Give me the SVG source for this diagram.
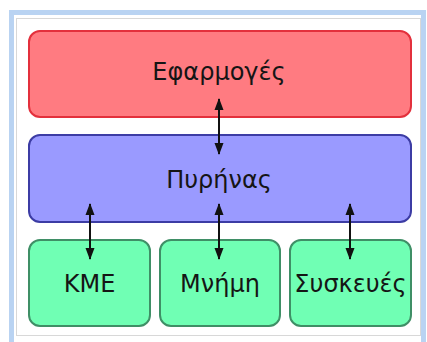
<svg xmlns="http://www.w3.org/2000/svg" width="427" height="342" viewBox="0 0 427 342">
<style>
.box{stroke-width:2}
.lbl{font-family:"DejaVu Sans",sans-serif;font-size:24px;fill:#151515;text-anchor:middle}
.con{stroke:#111;stroke-width:2;fill:none;marker-start:url(#ah);marker-end:url(#ah)}
</style>
<defs>
<marker id="ah" viewBox="0 0 12 10" refX="11" refY="5" markerWidth="12" markerHeight="10" markerUnits="userSpaceOnUse" orient="auto-start-reverse">
<path d="M0,0.5 L12,5 L0,9.5 Z" fill="#111"/>
</marker>
</defs>
<rect x="0" y="0" width="427" height="342" fill="#ffffff"/>
<rect x="11.5" y="12.5" width="412" height="332" fill="#ffffff" stroke="#b9d3f2" stroke-width="5"/>
<rect x="16.5" y="18.5" width="404" height="317" fill="#ffffff" stroke="#d8d8d8" stroke-width="1"/>
<g id="app">
<rect class="box" x="29" y="31" width="382" height="86" rx="11" fill="#ff7b81" stroke="#e3303c"/>
<text class="lbl" x="219" y="80">Εφαρμογές</text>
</g>
<g id="kernel">
<rect class="box" x="29" y="135" width="382" height="87" rx="11" fill="#9a9aff" stroke="#3c3ca4"/>
<text class="lbl" x="219" y="188">Πυρήνας</text>
</g>
<g id="cpu">
<rect class="box" x="29" y="240" width="121" height="86" rx="11" fill="#70ffb4" stroke="#3f8f66"/>
<text class="lbl" x="89.5" y="292">ΚΜΕ</text>
</g>
<g id="memory">
<rect class="box" x="160" y="240" width="120" height="86" rx="11" fill="#70ffb4" stroke="#3f8f66"/>
<text class="lbl" x="220" y="292">Μνήμη</text>
</g>
<g id="devices">
<rect class="box" x="290" y="240" width="121" height="86" rx="11" fill="#70ffb4" stroke="#3f8f66"/>
<text class="lbl" x="350.5" y="292">Συσκευές</text>
</g>
<g id="connectors">
<line class="con" x1="219" y1="99" x2="219" y2="154"/>
<line class="con" x1="90" y1="204" x2="90" y2="259"/>
<line class="con" x1="219" y1="204" x2="219" y2="259"/>
<line class="con" x1="350" y1="204" x2="350" y2="259"/>
</g>
</svg>
